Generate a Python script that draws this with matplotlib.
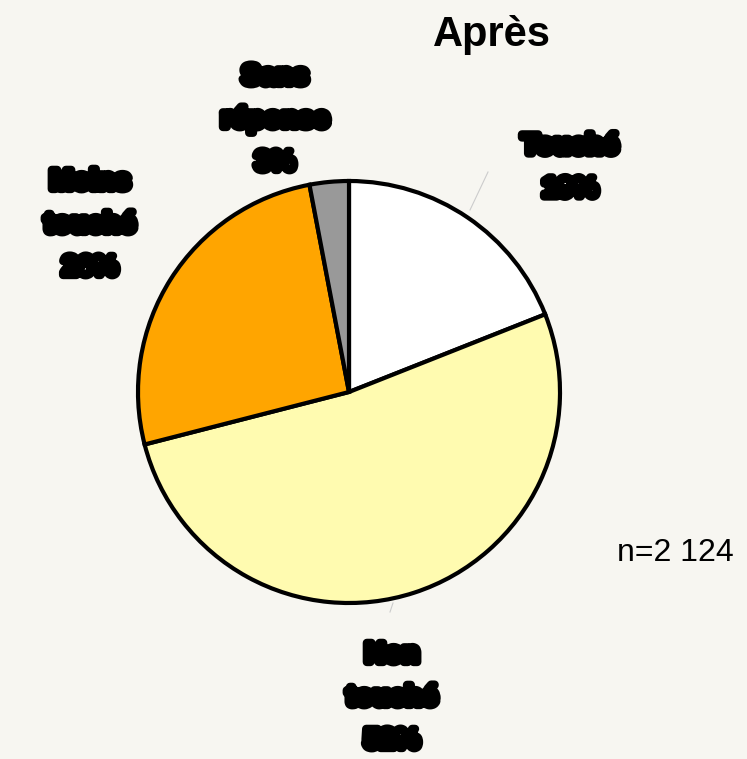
import matplotlib
matplotlib.use("Agg")
import matplotlib.pyplot as plt
import matplotlib.patheffects as pe

# ---- data --------------------------------------------------------------------
labels = ["Touché", "Non touché", "Moins touché", "Sans réponse"]
values = [19, 52, 26, 3]
colors = ["#ffffff", "#fffbb0", "#ffa500", "#999999"]
title = "Après"
n_text = "n=2 124"

BG = "#f7f6f1"
plt.rcParams["font.family"] = ["Liberation Sans", "DejaVu Sans"]

fig = plt.figure(figsize=(7.47, 7.59), dpi=100, facecolor=BG)

# pie axes: centre ~ (349, 392) px, radius ~ 211 px
W, H = 747, 759
cx, cy, r = 349, 392, 211
ax = fig.add_axes([(cx - r) / W, (H - cy - r) / H, 2 * r / W, 2 * r / H])
ax.set_facecolor(BG)
wedges, _ = ax.pie(values, colors=colors, startangle=90, counterclock=False,
                   wedgeprops={"edgecolor": "black", "linewidth": 3})
ax.set_xlim(-1, 1)
ax.set_ylim(-1, 1)
ax.set_aspect("equal")
ax.axis("off")

# redacted-looking labels (heavy stroke)
blk = [pe.withStroke(linewidth=6, foreground="black")]
label_pos = [(570 / W, 1 - 168 / H), (392 / W, 1 - 698 / H),
             (90 / W, 1 - 225 / H), (275 / W, 1 - 120 / H)]
for lab, v, (x, y) in zip(labels, values, label_pos):
    txt = lab.replace(" ", "\n") + f"\n{v}%"
    fig.text(x, y, txt, ha="center", va="center", fontsize=20,
             weight="bold", color="black", linespacing=1.85, path_effects=blk)

# faint leader lines
fig.add_artist(plt.Line2D([470 / W, 488 / W], [1 - 210 / H, 1 - 172 / H],
                          color="#cccccc", lw=0.8))
fig.add_artist(plt.Line2D([393 / W, 390 / W], [1 - 603 / H, 1 - 612 / H],
                          color="#cccccc", lw=0.8))

fig.text(492 / W, 1 - 35 / H, title, ha="center", va="center",
         fontsize=30, weight="bold")
fig.text(675 / W, 1 - 553 / H, n_text, ha="center", va="center", fontsize=23)

fig.savefig("out.png", dpi=100, facecolor=BG)
